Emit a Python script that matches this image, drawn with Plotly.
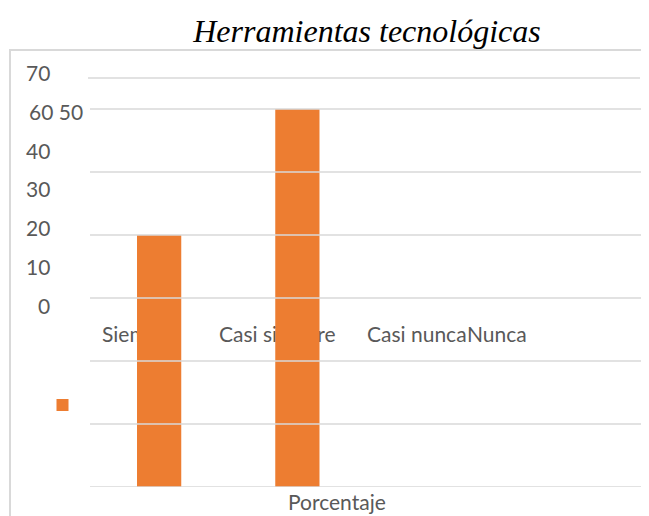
import plotly.graph_objects as go

# ---- data ----
categories = ["Siempre", "Casi siempre", "Casi nunca", "Nunca"]
percentages = [40, 60, 0, 0]
y_tick_labels = ["0", "10", "20", "30", "40", "60 50", "70"]
gridline_values = [0, 10, 20, 30, 40, 50, 60]
title_text = "Herramientas tecnológicas"
axis_title = "Porcentaje"

# ---- layout geometry ----
# The page body has an 8px margin, so the figure is sized to fill the rest
# of the 649x516 window and page-pixel positions are shifted by OFF.
OFF = 8
W, H = 649 - OFF, 516 - OFF
L, R, T, B = 90, 643, 78, 487          # plot area, in page pixels
pw, ph = R - L, B - T
px_per_10 = 63.0
ymax = ph / px_per_10 * 10

def fx(px):
    return (px - L) / pw

def fy(py):
    return (B - py) / ph

label_font = "Lato"
label_size = 21
label_color = "#595959"
bar_color = "#ED7D31"
grid_color = "#D9D9D9"

fig = go.Figure()

# category labels (drawn beneath the bars, as in the reference)
label_left_px = [102, 219, 367, 467]
label_row_px = 337
fig.add_trace(go.Scatter(
    x=[p - L for p in label_left_px],
    y=[B - label_row_px] * len(categories),
    mode="text", text=categories, textposition="middle right",
    textfont=dict(family=label_font, size=label_size, color=label_color),
    xaxis="x", yaxis="y", showlegend=False, hoverinfo="skip",
))

fig.add_trace(go.Bar(
    x=categories, y=percentages, xaxis="x2", yaxis="y2",
    marker=dict(color=bar_color, line=dict(width=0)),
    width=0.32, name="", showlegend=True,
))

hidden = dict(showgrid=False, zeroline=False, showticklabels=False, showline=False, ticks="")
fig.update_layout(
    width=W, height=H,
    margin=dict(l=L - OFF, r=W - (R - OFF), t=T - OFF, b=H - (B - OFF), pad=0),
    paper_bgcolor="white", plot_bgcolor="white",
    xaxis=dict(range=[0, pw], **hidden),
    yaxis=dict(range=[0, ph], **hidden),
    xaxis2=dict(overlaying="x", type="category", range=[-0.5, 3.5], **hidden),
    yaxis2=dict(overlaying="y", range=[0, ymax], **hidden),
    showlegend=True,
    legend=dict(x=fx(42.5), y=fy(405), xanchor="left", yanchor="middle",
                bgcolor="rgba(0,0,0,0)", font=dict(size=12)),
    title=dict(text=title_text, x=(367 - OFF) / W, y=1 - (31 - OFF) / H,
               xanchor="center", yanchor="middle",
               font=dict(family="Liberation Serif", size=32, color="black", style="italic")),
)

shapes = []
# frame
shapes.append(dict(type="rect", xref="paper", yref="paper",
                   x0=fx(10), x1=fx(700), y0=fy(560), y1=fy(50),
                   line=dict(color=grid_color, width=2), layer="above"))
# gridlines drawn over the bars
for v in gridline_values:
    shapes.append(dict(type="line", xref="paper", yref="y2", x0=0, x1=1, y0=v, y1=v,
                       line=dict(color=grid_color, width=1.6), layer="above"))
shapes.append(dict(type="line", xref="paper", yref="paper", x0=fx(88), x1=fx(640), y0=1, y1=1,
                   line=dict(color=grid_color, width=1.6), layer="above"))
fig.update_layout(shapes=shapes)

annotations = []
for i, lab in enumerate(y_tick_labels):
    ypx = 305 - 38.67 * i
    if " " in lab:
        annotations.append(dict(text=lab, xref="paper", yref="paper", x=fx(27), y=fy(ypx),
                                xanchor="left", yanchor="middle", showarrow=False,
                                font=dict(family=label_font, size=label_size, color=label_color)))
    else:
        annotations.append(dict(text=lab, xref="paper", yref="paper", x=fx(52), y=fy(ypx),
                                xanchor="right", yanchor="middle", showarrow=False,
                                font=dict(family=label_font, size=label_size, color=label_color)))
annotations.append(dict(text=axis_title, xref="paper", yref="paper", x=fx(337), y=fy(502),
                        xanchor="center", yanchor="middle", showarrow=False,
                        font=dict(family=label_font, size=label_size, color=label_color)))
fig.update_layout(annotations=annotations)

fig.write_html("out.html")
